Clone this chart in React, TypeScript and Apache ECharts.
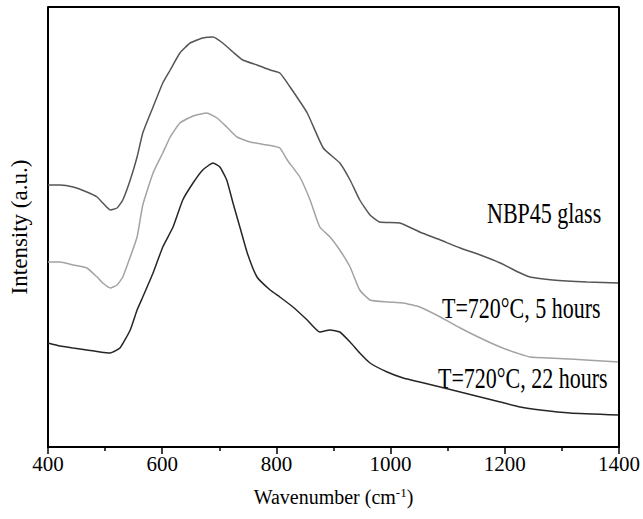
import React, { useEffect, useRef } from "react";
import * as echarts from "echarts";

// Wavenumber (cm-1) / intensity (a.u., offset traces)
const glassData: [number, number][] = [
  [400, 262], [421, 262], [444, 260], [468, 255], [486, 250], [496, 244], [509, 237],
  [521, 239], [531, 247], [544, 267], [556, 290], [566, 314], [584, 340], [601, 364],
  [614, 377], [631, 394], [649, 404], [671, 409], [689, 410], [706, 404], [724, 395],
  [741, 387], [766, 382], [789, 377], [806, 374], [824, 360], [854, 334], [882, 299],
  [911, 284], [929, 267], [946, 247], [964, 232], [981, 225], [1016, 224], [1051, 215],
  [1087, 207], [1122, 199], [1157, 192], [1192, 184], [1227, 174], [1244, 170],
  [1284, 167], [1344, 165], [1400, 164],
];

const h5Data: [number, number][] = [
  [400, 185], [421, 185], [444, 182], [468, 179], [486, 170], [496, 164], [509, 159],
  [521, 162], [531, 170], [544, 190], [556, 210], [566, 242], [584, 274], [601, 294],
  [614, 310], [631, 324], [654, 331], [678, 334], [696, 329], [713, 320], [731, 310],
  [754, 305], [784, 302], [806, 299], [819, 287], [841, 270], [859, 247], [876, 220],
  [894, 210], [911, 197], [929, 180], [946, 157], [964, 147], [994, 145], [1022, 144],
  [1051, 140], [1087, 130], [1122, 119], [1157, 109], [1192, 100], [1221, 94],
  [1244, 90], [1314, 88], [1400, 85],
];

const h22Data: [number, number][] = [
  [400, 104], [421, 101], [444, 99], [468, 97], [491, 95], [509, 94], [526, 99],
  [544, 117], [556, 137], [566, 150], [584, 174], [601, 200], [619, 220], [636, 247],
  [654, 264], [671, 277], [689, 284], [701, 280], [713, 267], [724, 244], [736, 220],
  [749, 194], [766, 170], [789, 157], [806, 150], [829, 140], [854, 127], [876, 115],
  [894, 117], [911, 115], [929, 105], [946, 94], [964, 84], [994, 75], [1022, 69],
  [1051, 65], [1087, 60], [1122, 55], [1157, 50], [1192, 45], [1227, 40], [1262, 37],
  [1314, 34], [1400, 32],
];

const seriesNames = ["NBP45 glass", "T=720°C, 5 hours", "T=720°C, 22 hours"];
const xTicks = { min: 400, max: 1400, interval: 200 };
const yRange = { min: 0, max: 440 };

const FONT = "'Liberation Serif', 'Times New Roman', serif";
const GRID = { left: 48, right: 24, top: 7, bottom: 72 };
const W = 643;
const H = 519;

export default function App() {
  const ref = useRef<HTMLDivElement>(null);
  useEffect(() => {
    if (!ref.current) return;
    const chart = echarts.init(ref.current, null, { renderer: "svg" });
    const lineSeries = (name: string, data: [number, number][], color: string) => ({
      name,
      type: "line",
      data,
      showSymbol: false,
      symbol: "none",
      smooth: 0.15,
      lineStyle: { color, width: 1.5 },
      z: 3,
    });
    const annot = (text: string, left: number, cy: number) => ({
      type: "text",
      x: left,
      y: cy,
      scaleY: 1.3,
      style: {
        text,
        font: `22px ${FONT}`,
        fill: "#000",
        textVerticalAlign: "middle",
        verticalAlign: "middle",
      },
    });
    // frame along the top and right edges of the plot, in data coordinates
    const frameData: [number, number][] = [
      [xTicks.min, yRange.max],
      [xTicks.max, yRange.max],
      [xTicks.max, yRange.min],
    ];
    chart.setOption({
      animation: false,
      backgroundColor: "#fff",
      grid: GRID,
      xAxis: {
        type: "value",
        position: "bottom",
        min: xTicks.min,
        max: xTicks.max,
        interval: xTicks.interval,
        name: "Wavenumber (cm{sup|-1})",
        nameLocation: "middle",
        nameGap: 39,
        nameTextStyle: {
          fontFamily: FONT,
          fontSize: 20,
          color: "#000",
          rich: {
            sup: { fontFamily: FONT, fontSize: 13, color: "#000", padding: [0, 0, 9, 0] },
          },
        },
        axisLine: { show: true, onZero: false, lineStyle: { color: "#000", width: 2 } },
        axisTick: { show: true, inside: false, length: 7, lineStyle: { color: "#000", width: 1.5 } },
        minorTick: { show: true, splitNumber: 2, length: 4, lineStyle: { color: "#000", width: 1.5 } },
        axisLabel: {
          fontFamily: FONT,
          fontSize: 21,
          color: "#000",
          margin: 6,
          formatter: (v: number) => String(v),
        },
        splitLine: { show: false },
      },
      yAxis: {
        type: "value",
        position: "left",
        min: yRange.min,
        max: yRange.max,
        name: "Intensity (a.u.)",
        nameLocation: "middle",
        nameGap: 17,
        nameRotate: 90,
        nameTextStyle: { fontFamily: FONT, fontSize: 23, color: "#000" },
        axisLine: { show: true, onZero: false, lineStyle: { color: "#000", width: 2 } },
        axisTick: { show: false },
        axisLabel: { show: false },
        splitLine: { show: false },
      },
      series: [
        lineSeries(seriesNames[0], glassData, "#555555"),
        lineSeries(seriesNames[1], h5Data, "#a3a3a3"),
        lineSeries(seriesNames[2], h22Data, "#262626"),
        {
          name: "frame",
          type: "line",
          data: frameData,
          showSymbol: false,
          symbol: "none",
          silent: true,
          clip: false,
          lineStyle: { color: "#000", width: 2 },
          z: 5,
        },
      ],
      graphic: [
        annot(seriesNames[0], 487, 213),
        annot(seriesNames[1], 442, 308),
        annot(seriesNames[2], 438, 378),
      ],
    });
    return () => chart.dispose();
  }, []);
  return (
    <div
      ref={ref}
      style={{ position: "absolute", left: 0, top: 0, width: W, height: H }}
    />
  );
}
